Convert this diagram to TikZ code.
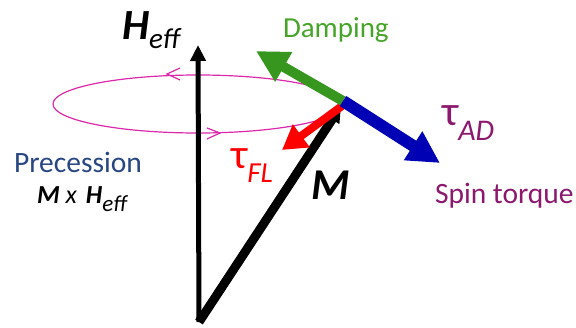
\documentclass[tikz,border=0pt]{standalone}
\usepackage{fontspec}
\setmainfont{Carlito}
\usetikzlibrary{arrows.meta}
\definecolor{pinkline}{RGB}{220,40,170}
\definecolor{dampgreen}{RGB}{55,150,30}
\definecolor{damptext}{RGB}{70,165,40}
\definecolor{spinblue}{RGB}{0,0,180}
\definecolor{purp}{RGB}{140,25,110}
\definecolor{precblue}{RGB}{40,70,130}
\tikzset{
  lbl/.style={anchor=base west, inner sep=0pt, outer sep=0pt},
  vec/.style={line cap=butt},
}
\newcommand{\fsz}[1]{\fontsize{#1}{#1}\selectfont}
\begin{document}
\begin{tikzpicture}[x=1pt,y=-1pt]
\useasboundingbox (0,0) rectangle (576,327);
% coordinates
\coordinate (O) at (199,322);
\coordinate (Htip) at (198,45);
\coordinate (P) at (343,101);
\coordinate (Mtip) at (341,106);
\coordinate (Rtail) at (342,106);
\coordinate (Rtip) at (282,150);
\coordinate (Gtip) at (256,51);
\coordinate (Btip) at (440,163);
% precession ellipse
\draw[pinkline, line width=1.2pt] (198,104) ellipse [x radius=145, y radius=29];
\draw[pinkline, line width=1.2pt] (180,68) -- (167,74) -- (180,80);
\draw[pinkline, line width=1.2pt] (207,128) -- (220,133) -- (207,139);
% H_eff axis
\draw[vec, line width=5pt, -{Triangle[length=16pt,width=15pt]}] (O) -- (Htip);
% M vector
\draw[vec, line width=9pt, -{Triangle[length=16pt,width=16pt]}, line join=miter] (O) -- (Mtip);
% field-like torque
\draw[vec, red, line width=8pt, -{Triangle[length=24pt,width=27pt]}] (Rtail) -- (Rtip);
% damping
\draw[vec, dampgreen, line width=10pt, -{Triangle[length=32pt,width=32pt]}] (P) -- (Gtip);
% spin torque (antidamping)
\draw[vec, spinblue, line width=12pt, -{Triangle[length=32pt,width=32pt]}] (P) -- (Btip);
% labels
\node[lbl] (heff) at (122,39) {\fsz{43}\bfseries\itshape H\raisebox{-9pt}{\fsz{29}\mdseries eff}};
\node[lbl, text=damptext] (damp) at (283,37) {\fsz{29}Damping};
\node[lbl, text=purp] (tauad) at (442,125) {\fsz{42}τ\raisebox{-15pt}{\fsz{30}\itshape AD}};
\node[lbl, text=purp] (spin) at (435,203) {\fsz{29.5}Spin torque};
\node[lbl, text=red] (taufl) at (231,168) {\fsz{42}τ\raisebox{-14pt}{\fsz{29}\itshape FL}};
\node[lbl] (mlab) at (311,199) {\fsz{44}\bfseries\itshape M};
\node[lbl, text=precblue] (prec) at (14,172) {\fsz{29.5}Precession};
\node[lbl] (mxh) at (37,203) {\fsz{26}\bfseries\itshape M\hspace{6pt}\mdseries x\hspace{9pt}\bfseries H\raisebox{-8pt}{\fsz{23}\mdseries eff}};
\end{tikzpicture}
\end{document}
